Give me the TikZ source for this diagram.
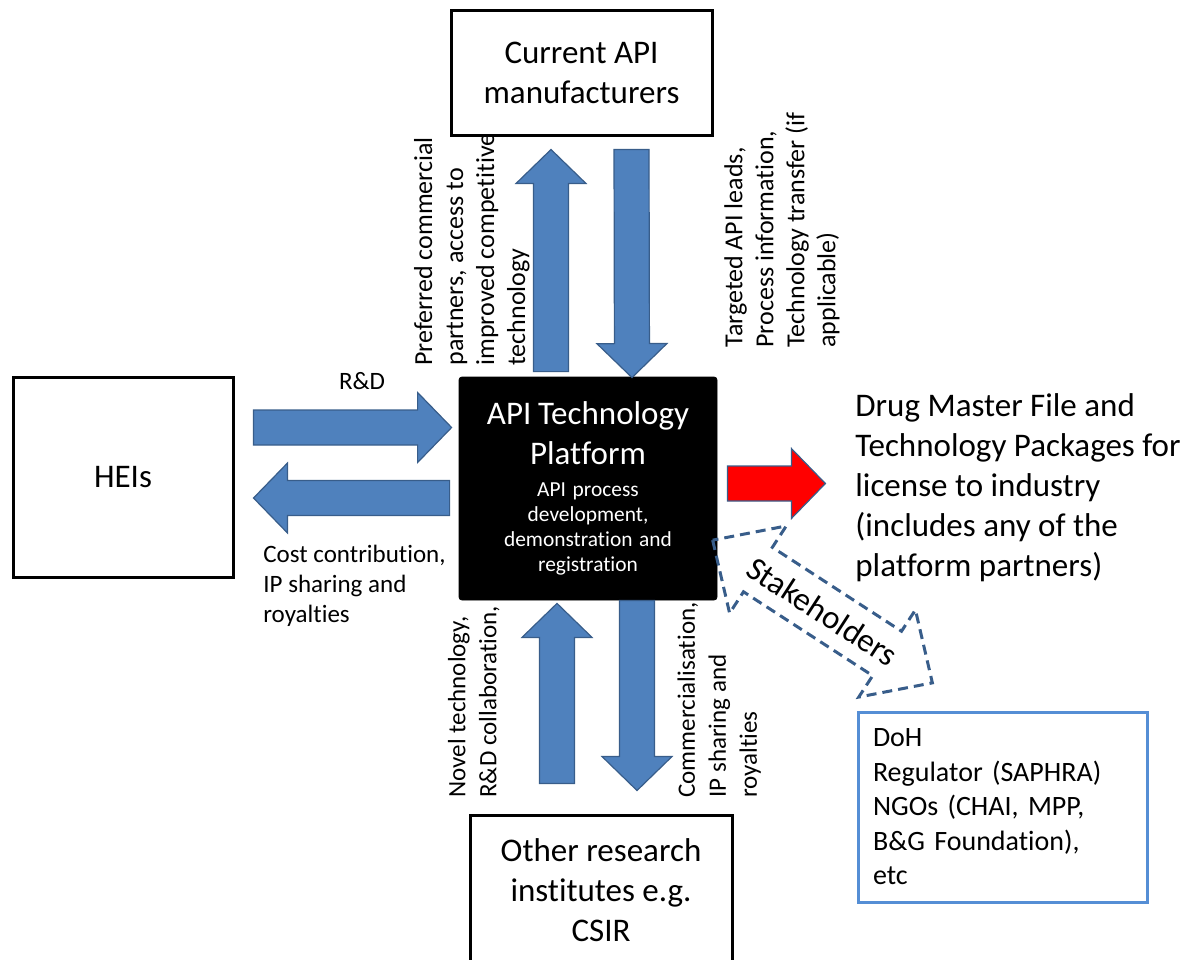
\documentclass[tikz,border=0pt]{standalone}
\usepackage{fontspec}
\setmainfont{Carlito}[Ligatures=CommonOff]
\usepackage{xcolor}
\usetikzlibrary{calc, positioning}

\definecolor{arrowBlue}{HTML}{4F81BD}
\definecolor{arrowEdge}{HTML}{385D8A}
\definecolor{boxBlue}{HTML}{558ED5}

\tikzset{
    partner/.style={rectangle, draw=black, line width=1.5pt, fill=white, align=center, font=\fontsize{16.5}{20}\selectfont},
    platform/.style={rectangle, draw=black, fill=black, rounded corners=1.5pt, text=white, align=center, text width=125pt, minimum width=129pt, minimum height=111.5pt, inner sep=2pt},
    flowText/.style={font=\fontsize{12.5}{15.5}\selectfont, align=left, inner sep=0pt},
    topText/.style={flowText, font=\fontsize{13}{15.5}\selectfont},
    sideText/.style={font=\fontsize{12.5}{15}\selectfont, align=left, inner sep=0pt},
    bigText/.style={font=\fontsize{16.5}{20}\selectfont, align=left, inner sep=0pt},
    stakeBox/.style={rectangle, draw=boxBlue, line width=1.5pt, fill=white, align=left, text width=129.5pt, inner xsep=7.5pt, minimum width=144.5pt, minimum height=95pt, font=\fontsize{14}{17.25}\selectfont},
    blockArrow/.style={draw=arrowEdge, line width=0.6pt, fill=arrowBlue, line join=miter},
    stakeArrow/.style={draw=arrowEdge, line width=1.5pt, dash pattern=on 5pt off 3pt}
}

% fat block arrow from #2 to #3
\newcommand{\fatArrow}[3][]{%
    \coordinate (fa-q) at ($(#3)!17pt!(#2)$);
    \draw[blockArrow, #1] ($(#2)!8.75pt!90:(#3)$) -- ($(fa-q)!8.75pt!90:(#3)$) -- ($(fa-q)!17.5pt!90:(#3)$) -- (#3)
        -- ($(fa-q)!17.5pt!-90:(#3)$) -- ($(fa-q)!8.75pt!-90:(#3)$) -- ($(#2)!8.75pt!-90:(#3)$) -- cycle;
}

\begin{document}
\begin{tikzpicture}[x=0.5pt, y=-0.5pt]
    \useasboundingbox (0,0) rectangle (1186,959);
    \clip (0,0) rectangle (1186,959);

    % partners round the platform
    \node[partner, minimum width=130.5pt, minimum height=62.5pt] (cur) at (581.5,72.5) {Current API\\manufacturers};
    \node[partner, minimum width=110pt, minimum height=100pt] (hei) at (123,477) {HEIs};
    \node[partner, minimum width=131pt, minimum height=75pt] (oth) at (601,890) {Other research\\institutes e.g.\\CSIR};
    \node[platform] (plat) at (588,488.5) {{\fontsize{16.5}{20}\selectfont API Technology\\Platform\par}\vspace{3.5pt}{\fontsize{10.7}{12.5}\selectfont API process\\development,\\demonstration  and\\registration\par}};
    \node[stakeBox] (stk) at (1002.5,807) {DoH\\Regulator  (SAPHRA)\\NGOs (CHAI, MPP,\\B\&G Foundation),\\etc};

    % arrow ends
    \coordinate (up1s) at ($(plat.north)+(-37,-5)$);
    \coordinate (up1e) at ($(cur.south)+(-30.5,13)$);
    \coordinate (dn1s) at ($(cur.south)+(50,13)$);
    \coordinate (dn1e) at ($(plat.north)+(44,1)$);
    \coordinate (rdS) at ($(hei.east)+(19,-49.5)$);
    \coordinate (rdE) at ($(plat.west)+(-7,-61)$);
    \coordinate (lfS) at ($(plat.west)+(-9,9.5)$);
    \coordinate (lfE) at ($(hei.east)+(19,21)$);
    \coordinate (redS) at ($(plat.east)+(10,-5)$);
    \coordinate (redE) at ($(plat.east)+(108,-5)$);
    \coordinate (up2s) at ($(oth.north)+(-44,-30)$);
    \coordinate (up2e) at ($(plat.south)+(-31,3)$);
    \coordinate (dn2s) at ($(plat.south)+(49,0)$);
    \coordinate (dn2e) at ($(oth.north)+(36,-23)$);

    \fatArrow{up1s}{up1e}
    \fatArrow{dn1s}{dn1e}
    \fatArrow{rdS}{rdE}
    \fatArrow{lfS}{lfE}
    \fatArrow{up2s}{up2e}
    \fatArrow{dn2s}{dn2e}
    \fatArrow[fill=red]{redS}{redE}

    % flow labels
    \node[sideText] (rdLbl) at (362,381) {R\&D};
    \node[sideText, anchor=north west] (costLbl) at (263,545) {Cost contribution,\\IP sharing and\\royalties};
    \node[topText, rotate=90, anchor=south west] (prefLbl) at (530,366) {Preferred commercial\\partners, access to\\improved competitive\\technology};
    \node[topText, rotate=90, anchor=north west] (tgtLbl) at (724,348) {Targeted API leads,\\Process information,\\Technology  transfer (if\\applicable)};
    \node[flowText, rotate=90, anchor=south west] (novLbl) at (500,798) {Novel technology,\\R\&D collaboration,};
    \node[flowText, rotate=90, anchor=north west] (comLbl) at (677,798) {Commercialisation,\\IP sharing and\\royalties};
    \node[bigText, anchor=north west] (dmf) at (855,393) {Drug Master File and\\Technology Packages for\\license to industry\\(includes any of the\\platform partners)};

    % stakeholders
    \begin{scope}[shift={(822.5,611.5)}, rotate=-33]
        \draw[stakeArrow] (-131,0) -- (-77,52) -- (-77,26.5) -- (77,26.5) -- (77,52) -- (131,0)
            -- (77,-52) -- (77,-26.5) -- (-77,-26.5) -- (-77,-52) -- cycle;
        \node[rotate=-33, font=\fontsize{16.5}{20}\selectfont] (stake) at (0,0) {Stakeholders};
    \end{scope}
\end{tikzpicture}
\end{document}
